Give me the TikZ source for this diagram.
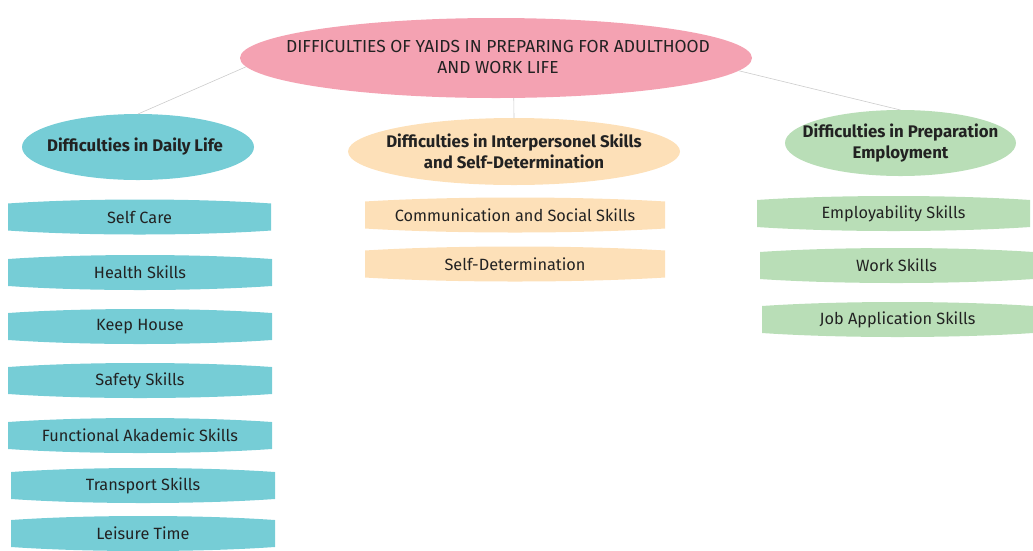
\documentclass[tikz,border=0pt]{standalone}
\usepackage{fontspec}
\setmainfont{Fira Sans}
\usetikzlibrary{shapes.geometric}
\definecolor{pinkc}{HTML}{F4A2B2}
\definecolor{tealc}{HTML}{76CDD6}
\definecolor{peachc}{HTML}{FDE0B8}
\definecolor{greenc}{HTML}{B9DEB7}
\definecolor{txt}{HTML}{222222}
\newcommand\myitemfont{\fontsize{16.3}{19}\selectfont}
\newcommand\myheadfont{\fontsize{16.8}{21}\selectfont\bfseries}
\newcommand\mytopfont{\fontsize{17.4}{21}\selectfont}
\tikzset{
  topell/.style={ellipse, fill=pinkc, minimum width=512pt, minimum height=80pt, inner sep=0pt, outer sep=0pt},
  catell/.style n args={3}{ellipse, fill=#1, minimum width=#2, minimum height=#3, inner sep=0pt, outer sep=0pt},
  headtxt/.style={font=\myheadfont, text=txt, align=center, inner sep=0pt},
  toptxt/.style={font=\mytopfont, text=txt, align=center, inner sep=0pt},
  itembox/.style n args={3}{rectangle, minimum width=#2, minimum height=35pt, inner sep=0pt, outer sep=0pt,
     font=\myitemfont, text=txt,
     path picture={\fill[#1] (path picture bounding box.center) ellipse [x radius=#3, y radius=17.5pt];}},
  link/.style={draw=gray!40, line width=0.6pt},
}
\begin{document}
\begin{tikzpicture}[x=1pt,y=-1pt]
\useasboundingbox (0,0) rectangle (1033,550);
% top
\node[topell] (top) at (496,58) {};
\node[toptxt] (toptext) at (498,57) {DIFFICULTIES OF YAIDS IN PREPARING FOR ADULTHOOD\\AND WORK LIFE};
% categories
\node[catell={tealc}{232pt}{66pt}] (daily) at (138,147) {};
\node[headtxt] (dailytext) at (135,147) {Difficulties in Daily Life};
\node[catell={peachc}{332pt}{67pt}] (inter) at (514,151.5) {};
\node[headtxt] (intertext) at (inter) {Difficulties in Interpersonel Skills\\and Self-Determination};
\node[catell={greenc}{231pt}{66pt}] (prep) at (900.5,143) {};
\node[headtxt] (preptext) at (prep) {Difficulties in Preparation\\Employment};
% connectors
\draw[link] (top.182) -- (daily.north);
\draw[link] (top.294) -- (inter.north);
\draw[link] (top.357) -- (prep.north);
% daily items
\node[itembox={tealc}{263pt}{207pt}] (i1) at (139.5,217) {Self Care};
\node[itembox={tealc}{264pt}{207pt}] (i2) at (140,272.5) {Health Skills};
\node[itembox={tealc}{264pt}{207pt}] (i3) at (140,326.5) {Keep House};
\node[itembox={tealc}{264pt}{207pt}] (i4) at (140,380.5) {Safety Skills};
\node[itembox={tealc}{264pt}{207pt}] (i5) at (140,435.5) {Functional Akademic Skills};
\node[itembox={tealc}{264pt}{207pt}] (i6) at (143,485.5) {Transport Skills};
\node[itembox={tealc}{264pt}{207pt}] (i7) at (143,533.5) {Leisure Time};
% interpersonal items
\node[itembox={peachc}{300pt}{236pt}] (m1) at (515,215) {Communication and Social Skills};
\node[itembox={peachc}{300pt}{236pt}] (m2) at (515,264) {Self-Determination};
% preparation items
\node[itembox={greenc}{273pt}{215pt}] (r1) at (893.5,213.5) {Employability Skills};
\node[itembox={greenc}{273pt}{215pt}] (r2) at (896.5,265.5) {Work Skills};
\node[itembox={greenc}{271pt}{213pt}] (r3) at (897.5,319.5) {Job Application Skills};
\end{tikzpicture}
\end{document}
